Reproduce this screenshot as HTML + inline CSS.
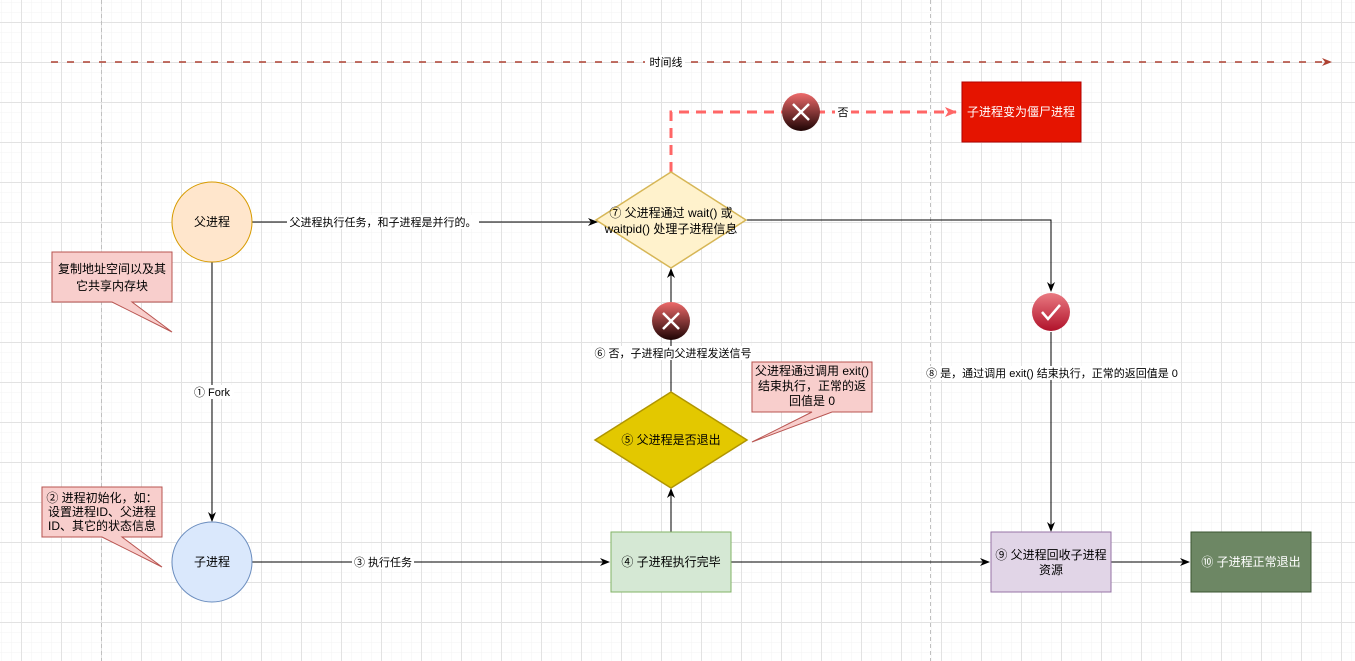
<!DOCTYPE html>
<html><head><meta charset="utf-8"><style>
html,body{margin:0;padding:0;background:#fff;}
svg{display:block;font-family:"Liberation Sans","Noto Sans CJK SC",sans-serif;}
</style></head><body>
<svg width="1355" height="661" viewBox="0 0 1355 661" xmlns="http://www.w3.org/2000/svg">
<defs>
<pattern id="minor" width="10" height="10" patternUnits="userSpaceOnUse" x="1" y="2">
<path d="M0 0H10M0 0V10" stroke="#f3f3f3" stroke-width="1" fill="none"/></pattern>
<pattern id="major" width="40" height="40" patternUnits="userSpaceOnUse" x="21" y="22">
<path d="M0 0.5H40M0.5 0V40" stroke="#e2e2e2" stroke-width="1" fill="none"/></pattern>
<marker id="ar" markerWidth="10" markerHeight="10" refX="9" refY="5" orient="auto" markerUnits="userSpaceOnUse"><path d="M0 1L10 5L0 9L3 5Z" fill="#000"/></marker>
<marker id="arr" markerWidth="12" markerHeight="12" refX="11" refY="6" orient="auto" markerUnits="userSpaceOnUse"><path d="M0 1L12 6L0 11L3 6Z" fill="#ff6666"/></marker>
<marker id="art" markerWidth="10" markerHeight="10" refX="9" refY="5" orient="auto" markerUnits="userSpaceOnUse"><path d="M0 1L10 5L0 9L3 5Z" fill="#ae4132"/></marker>
<linearGradient id="gx" x1="0" y1="0" x2="0" y2="1"><stop offset="0" stop-color="#ee6a6a"/><stop offset="1" stop-color="#1e0404"/></linearGradient>
<linearGradient id="gc" x1="0" y1="0" x2="0" y2="1"><stop offset="0" stop-color="#ea7a82"/><stop offset="1" stop-color="#b0122a"/></linearGradient>
</defs>
<rect width="1355" height="661" fill="url(#minor)"/>
<rect width="1355" height="661" fill="url(#major)"/>
<line x1="101.5" y1="0" x2="101.5" y2="661" stroke="#c0c0c0" stroke-dasharray="4 3"/>
<line x1="930.5" y1="0" x2="930.5" y2="661" stroke="#c0c0c0" stroke-dasharray="4 3"/>

<!-- timeline -->
<line x1="51" y1="62" x2="1331" y2="62" stroke="#ae4132" stroke-width="1.5" stroke-dasharray="7 9" marker-end="url(#art)"/>
<rect x="645" y="55" width="40" height="14" fill="#fff"/>
<text x="666" y="66" font-size="11" text-anchor="middle">时间线</text>

<!-- connectors -->
<line x1="212" y1="262" x2="212" y2="521" stroke="#000" marker-end="url(#ar)"/>
<rect x="190" y="385" width="44" height="14" fill="#fff"/>
<text x="212" y="396" font-size="11" text-anchor="middle">① Fork</text>

<line x1="252" y1="222" x2="597" y2="222" stroke="#000" marker-end="url(#ar)"/>
<rect x="287" y="215" width="192" height="14" fill="#fff"/>
<text x="383" y="226" font-size="11" text-anchor="middle">父进程执行任务，和子进程是并行的。</text>

<line x1="252" y1="562" x2="609" y2="562" stroke="#000" marker-end="url(#ar)"/>
<rect x="352" y="555" width="62" height="14" fill="#fff"/>
<text x="383" y="566" font-size="11" text-anchor="middle">③ 执行任务</text>

<line x1="731" y1="562" x2="989" y2="562" stroke="#000" marker-end="url(#ar)"/>
<line x1="1111" y1="562" x2="1189" y2="562" stroke="#000" marker-end="url(#ar)"/>

<line x1="671" y1="532" x2="671" y2="489" stroke="#000" marker-end="url(#ar)"/>
<line x1="671" y1="392" x2="671" y2="269" stroke="#000" marker-end="url(#ar)"/>
<rect x="590" y="346" width="166" height="14" fill="#fff"/>
<text x="673" y="357" font-size="11" text-anchor="middle">⑥ 否，子进程向父进程发送信号</text>

<polyline points="746,220 1051,220 1051,291" fill="none" stroke="#000" marker-end="url(#ar)"/>
<line x1="1051" y1="332" x2="1051" y2="531" stroke="#000" marker-end="url(#ar)"/>
<rect x="924" y="366" width="256" height="14" fill="#fff"/>
<text x="1052" y="377" font-size="11" text-anchor="middle">⑧ 是，通过调用 exit() 结束执行，正常的返回值是 0</text>

<polyline points="671,172 671,112 956,112" fill="none" stroke="#ff6666" stroke-width="3" stroke-dasharray="10 7" marker-end="url(#arr)"/>
<rect x="835" y="105" width="16" height="14" fill="#fff"/>
<text x="843" y="116" font-size="11" text-anchor="middle">否</text>

<!-- nodes -->
<circle cx="212" cy="222" r="40" fill="#ffe6cc" stroke="#d79b00"/>
<text x="212" y="226" font-size="12" text-anchor="middle">父进程</text>
<circle cx="212" cy="562" r="40" fill="#dae8fc" stroke="#6c8ebf"/>
<text x="212" y="566" font-size="12" text-anchor="middle">子进程</text>

<polygon points="52,252 172,252 172,302 132,302 172,332 112,302 52,302" fill="#f8cecc" stroke="#b85450"/>
<text x="112" y="273" font-size="12" text-anchor="middle">复制地址空间以及其</text>
<text x="112" y="290" font-size="12" text-anchor="middle">它共享内存块</text>

<polygon points="42,487 162,487 162,537 122,537 162,567 102,537 42,537" fill="#f8cecc" stroke="#b85450"/>
<text x="102" y="502" font-size="12" text-anchor="middle">② 进程初始化，如：</text>
<text x="102" y="516" font-size="12" text-anchor="middle">设置进程ID、父进程</text>
<text x="102" y="530" font-size="12" text-anchor="middle">ID、其它的状态信息</text>

<polygon points="671,172 746,220 671,268 596,220" fill="#fff2cc" stroke="#d6b656" stroke-width="1.5"/>
<text x="671" y="217" font-size="12" text-anchor="middle">⑦ 父进程通过 wait() 或</text>
<text x="671" y="233" font-size="12" text-anchor="middle">waitpid() 处理子进程信息</text>

<polygon points="671,392 747,440 671,488 595,440" fill="#e3c800" stroke="#b09500" stroke-width="1.5"/>
<text x="671" y="444" font-size="12" text-anchor="middle">⑤ 父进程是否退出</text>

<polygon points="752,362 872,362 872,412 832,412 752,442 812,412 752,412" fill="#f8cecc" stroke="#b85450"/>
<text x="812" y="375" font-size="12" text-anchor="middle">父进程通过调用 exit()</text>
<text x="812" y="390" font-size="12" text-anchor="middle">结束执行，正常的返</text>
<text x="812" y="405" font-size="12" text-anchor="middle">回值是 0</text>

<rect x="611" y="532" width="120" height="60" fill="#d5e8d4" stroke="#82b366"/>
<text x="671" y="566" font-size="12" text-anchor="middle">④ 子进程执行完毕</text>

<rect x="991" y="532" width="120" height="60" fill="#e1d5e7" stroke="#9673a6"/>
<text x="1051" y="559" font-size="12" text-anchor="middle">⑨ 父进程回收子进程</text>
<text x="1051" y="574" font-size="12" text-anchor="middle">资源</text>

<rect x="1191" y="532" width="120" height="60" fill="#6d8764" stroke="#3a5431"/>
<text x="1251" y="566" font-size="12" text-anchor="middle" fill="#fff">⑩ 子进程正常退出</text>

<rect x="962" y="82" width="119" height="60" fill="#e51400" stroke="#b20000"/>
<text x="1021" y="116" font-size="12" text-anchor="middle" fill="#fff">子进程变为僵尸进程</text>

<!-- icons -->
<circle cx="801" cy="112" r="19" fill="url(#gx)"/>
<path d="M793 104L809 120M809 104L793 120" stroke="#fff" stroke-width="2.5"/>
<circle cx="671" cy="321" r="19" fill="url(#gx)"/>
<path d="M663 313L679 329M679 313L663 329" stroke="#fff" stroke-width="2.5"/>
<circle cx="1051" cy="312" r="19" fill="url(#gc)"/>
<path d="M1042 312L1048 319L1060 305" stroke="#fff" stroke-width="2.5" fill="none"/>
</svg>
</body></html>
